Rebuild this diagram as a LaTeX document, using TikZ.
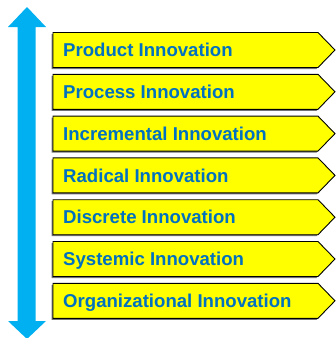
\documentclass[tikz,border=0pt]{standalone}
\usepackage{fontspec}
\setmainfont{Liberation Sans}
\definecolor{arrowblue}{HTML}{00B0F0}
\definecolor{textblue}{HTML}{0070C0}
\definecolor{boxyellow}{HTML}{FFFF00}
\tikzset{
  kind/.style={draw=black,line width=0.9pt,fill=boxyellow,line join=miter},
  kindshadow/.style={fill=black!55},
  kindtext/.style={anchor=base west,inner sep=0pt,text=textblue,font=\fontsize{18.6}{20}\selectfont\bfseries}
}
\begin{document}
\begin{tikzpicture}[x=1pt,y=-1pt,line join=round]
\useasboundingbox (0,0) rectangle (336,338);
% double arrow on the left
\fill[arrowblue] (27,7)--(46,27)--(35.5,27)--(35.5,321)--(46,321)--(27,339)--(8,321)--(17.5,321)--(17.5,27)--(8,27)--cycle;
% the seven kinds
\foreach \i/\name in {1/Product Innovation,2/Process Innovation,3/Incremental Innovation,4/Radical Innovation,5/Discrete Innovation,6/Systemic Innovation,7/Organizational Innovation}{
  \pgfmathsetmacro{\top}{32.5+41.8*(\i-1)}
  \fill[kindshadow] (51.5,\top+1.5) -- ++(265,0) -- ++(17,17.5) -- ++(-17,17.5) -- ++(-265,0) -- cycle;
  \draw[kind] (53,\top) -- ++(265,0) -- ++(17,17.5) -- ++(-17,17.5) -- ++(-265,0) -- cycle;
  \node[kindtext] (k\i) at (63,\top+24.2) {\name};
}
\end{tikzpicture}
\end{document}
